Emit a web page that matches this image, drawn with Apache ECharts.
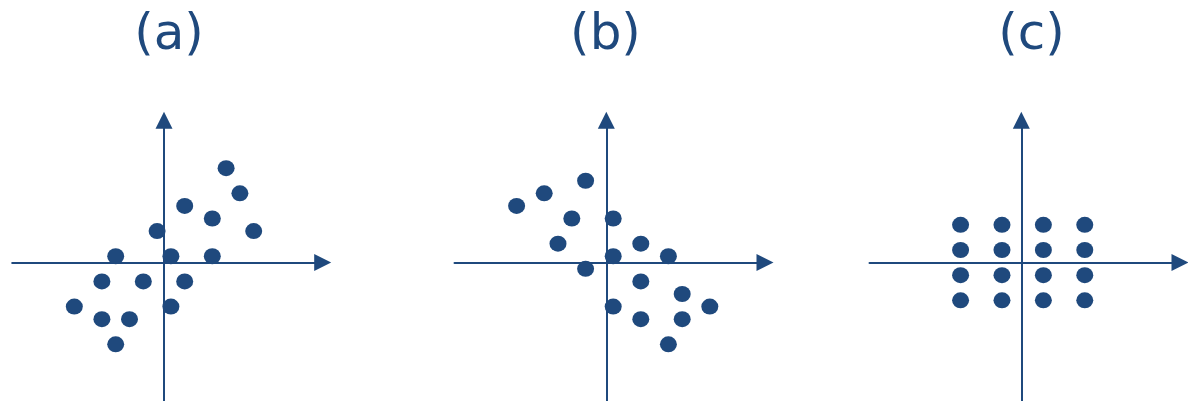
<!DOCTYPE html>
<html>
<head>
<meta charset="utf-8">
<script src="https://cdn.jsdelivr.net/npm/echarts@6/dist/echarts.min.js"></script>
<style>
  html, body { margin: 0; padding: 0; background: #ffffff; }
  #chart { width: 1188px; height: 401px; }
</style>
</head>
<body>
<div id="chart"></div>
<script>
// Panel titles
const panelTitles = ['(a)', '(b)', '(c)'];

// (a) positive correlation
const pointsA = [
  [4.5, 7.5], [5.5, 5.5], [1.5, 4.5], [3.5, 3.5], [6.5, 2.5], [-0.5, 2.5],
  [-3.5, 0.5], [0.5, 0.5], [3.5, 0.5], [-4.5, -1.5], [-1.5, -1.5], [1.5, -1.5],
  [-6.5, -3.5], [0.5, -3.5], [-4.5, -4.5], [-2.5, -4.5], [-3.5, -6.5]
];

// (b) negative correlation
const pointsB = [
  [-1.5, 6.5], [-4.5, 5.5], [-6.5, 4.5], [-2.5, 3.5], [0.5, 3.5], [-3.5, 1.5],
  [2.5, 1.5], [0.5, 0.5], [4.5, 0.5], [-1.5, -0.5], [2.5, -1.5], [5.5, -2.5],
  [0.5, -3.5], [7.5, -3.5], [2.5, -4.5], [5.5, -4.5], [4.5, -6.5]
];

// (c) no correlation: a regular lattice
const pointsC = [
  [-4.4, 3], [-1.4, 3], [1.6, 3], [4.6, 3],
  [-4.4, 1], [-1.4, 1], [1.6, 1], [4.6, 1],
  [-4.4, -1], [-1.4, -1], [1.6, -1], [4.6, -1],
  [-4.4, -3], [-1.4, -3], [1.6, -3], [4.6, -3]
];

const panels = [pointsA, pointsB, pointsC];

const ink = '#1F497D';
const xRange = [-11, 11.5];
const yRange = [-11, 11.3];
const panelLeft = [12.2, 454.5, 869.5];
const titleX = [169, 605.5, 1031.5];

const grids = [], xAxes = [], yAxes = [], series = [], graphics = [];

const axisCommon = {
  type: 'value',
  axisLabel: { show: false },
  axisTick: { show: false },
  splitLine: { show: false },
  axisLine: {
    show: true,
    onZero: true,
    symbol: ['none', 'triangle'],
    symbolSize: [17, 17],
    lineStyle: { color: ink, width: 2 }
  }
};

panels.forEach(function (pts, i) {
  grids.push({ left: panelLeft[i], top: 120.35, width: 310.5, height: 282.1, containLabel: false });
  xAxes.push(Object.assign({}, axisCommon, { gridIndex: i, min: xRange[0], max: xRange[1] }));
  yAxes.push(Object.assign({}, axisCommon, { gridIndex: i, min: yRange[0], max: yRange[1] }));
  series.push({
    type: 'scatter',
    xAxisIndex: i,
    yAxisIndex: i,
    data: pts,
    symbol: 'circle',
    symbolSize: [17, 16],
    itemStyle: { color: ink, opacity: 1 },
    silent: true
  });
  graphics.push({
    type: 'text',
    x: titleX[i],
    y: 36,
    style: {
      text: panelTitles[i],
      fill: ink,
      font: '50px "DejaVu Sans"',
      align: 'center',
      verticalAlign: 'middle'
    }
  });
});

const chart = echarts.init(document.getElementById('chart'), null, { renderer: 'canvas' });
chart.setOption({
  animation: false,
  backgroundColor: '#ffffff',
  grid: grids,
  xAxis: xAxes,
  yAxis: yAxes,
  series: series,
  graphic: graphics
});
</script>
</body>
</html>
